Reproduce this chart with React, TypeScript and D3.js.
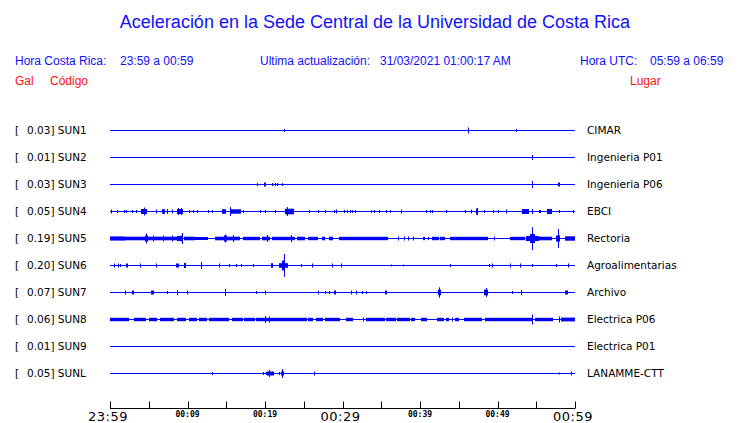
import React from "react";
import * as d3 from "d3";

const TITLE = "Aceleración en la Sede Central de la Universidad de Costa Rica";
const codes = ["SUN1", "SUN2", "SUN3", "SUN4", "SUN5", "SUN6", "SUN7", "SUN8", "SUN9", "SUNL"];
const gals = ["0.03", "0.01", "0.03", "0.05", "0.19", "0.20", "0.07", "0.06", "0.01", "0.05"];
const places = ["CIMAR", "Ingenieria P01", "Ingenieria P06", "EBCI", "Rectoria", "Agroalimentarias", "Archivo", "Electrica P06", "Electrica P01", "LANAMME-CTT"];

// events: [start minute, end minute, half amplitude]
const sun1 = [[22.5, 22.5, 1], [46.15, 46.25, 2.5], [52.4, 52.4, 1]];
const sun2 = [[54.5, 54.5, 2]];
const sun3 = [[19.0, 19.0, 1], [19.9, 20.1, 1.5], [20.9, 20.9, 1], [21.3, 21.3, 1], [21.6, 21.6, 1], [22.2, 22.2, 1], [54.45, 54.55, 3], [57.8, 58.0, 1.5]];
const sun4 = [
  [0.1, 0.1, 1.5], [0.9, 0.9, 1], [1.8, 1.8, 1], [2.1, 2.1, 1], [2.9, 2.9, 1], [3.4, 3.4, 1],
  [4.0, 4.8, 2], [4.4, 4.4, 3.5], [5.9, 5.9, 1.5], [6.7, 7.05, 1.8], [7.4, 7.4, 2], [8.0, 8.0, 1.5],
  [8.6, 9.4, 2], [8.8, 8.8, 3], [9.1, 9.1, 3], [10.2, 10.2, 1], [10.7, 10.7, 1], [11.2, 11.2, 1],
  [12.6, 12.6, 1], [13.1, 13.1, 1], [14.5, 14.95, 1.8], [15.5, 15.5, 4], [15.6, 16.9, 1.7], [17.2, 17.2, 1],
  [19.4, 19.4, 1], [20.0, 20.0, 1], [21.3, 21.3, 1], [22.6, 23.7, 2.3], [22.9, 22.9, 4],
  [25.7, 25.7, 1], [26.8, 26.8, 1], [27.8, 27.8, 1], [28.9, 28.9, 1], [29.2, 29.2, 1.5],
  [30.2, 30.2, 1], [30.6, 30.6, 1], [31.0, 31.0, 1], [31.2, 31.2, 1], [31.6, 31.6, 1],
  [33.7, 33.7, 1], [34.1, 34.1, 1], [34.7, 34.7, 1], [35.6, 35.6, 1], [36.1, 36.1, 1],
  [37.55, 37.65, 1.5], [40.8, 40.8, 1], [41.3, 41.3, 1], [41.5, 41.5, 1], [43.4, 43.4, 1],
  [45.8, 45.8, 1], [46.55, 46.65, 1.5], [47.2, 47.4, 2.5], [47.3, 47.3, 3], [48.3, 48.3, 1], [49.4, 49.4, 1],
  [50.0, 50.0, 1], [51.05, 51.15, 1.5], [53.2, 54.0, 2], [54.45, 54.55, 2], [55.3, 55.3, 1],
  [55.5, 55.5, 1], [56.4, 57.0, 2], [57.9, 57.9, 1], [59.8, 59.8, 1],
];
const sun5 = [
  [0.0, 1.9, 1.6], [1.9, 4.5, 1.3], [4.55, 4.85, 2.5], [4.7, 4.7, 4.5], [4.9, 9.2, 1.3], [5.5, 5.5, 2.5],
  [6.8, 6.8, 2.5], [8.0, 8.0, 2.5], [8.7, 9.1, 2], [9.2, 9.4, 2.5], [9.3, 9.3, 5], [9.5, 11.0, 1.3],
  [11.0, 12.3, 1], [12.3, 12.7, 1], [13.5, 16.8, 1.3], [14.75, 15.05, 2.5], [14.9, 14.9, 3.5],
  [15.9, 15.9, 3], [17.2, 19.4, 1.2], [19.6, 20.6, 1.3], [20.2, 20.2, 3], [20.9, 23.9, 1.2],
  [23.4, 23.4, 3], [24.1, 25.2, 1.3], [25.6, 26.9, 1.2], [27.3, 27.7, 1.3], [28.2, 28.8, 1.3],
  [29.5, 35.9, 1.2], [37.2, 37.2, 1.5], [38.0, 38.0, 1.5], [38.5, 38.5, 1.5], [39.1, 39.1, 1.5],
  [40.4, 40.6, 1.2], [41.0, 41.2, 1.2], [41.5, 42.4, 1.2], [42.6, 43.2, 1.2], [43.9, 48.8, 1.2],
  [49.5, 49.5, 1.5], [51.6, 53.5, 1.2], [53.7, 55.3, 2], [54.2, 54.8, 4], [54.5, 54.5, 11],
  [54.45, 54.6, 7], [55.3, 57.0, 1.3], [57.5, 58.1, 2.5], [57.8, 57.8, 9], [58.7, 60.0, 1.7],
];
const sun6 = [
  [0.5, 0.5, 1.5], [1.0, 1.0, 1.5], [1.3, 1.3, 1], [2.1, 2.3, 1.5], [3.9, 3.9, 1.5], [5.9, 5.9, 1.5],
  [8.55, 8.85, 1.5], [9.55, 9.85, 2], [11.8, 11.8, 3], [14.1, 14.1, 1.5], [15.4, 15.4, 1],
  [16.3, 16.3, 1], [16.9, 16.9, 1], [18.5, 18.5, 1], [20.8, 21.05, 1.8], [21.85, 22.95, 1.8],
  [22.25, 22.6, 4.5], [22.4, 22.4, 11], [24.6, 24.6, 1], [26.1, 26.1, 1.5], [28.6, 28.6, 1.5],
  [29.8, 29.8, 1.5], [36.2, 36.2, 0.5], [37.8, 37.8, 0.5], [43.9, 43.9, 1], [48.9, 48.9, 1],
  [49.35, 49.45, 1.5], [51.65, 51.75, 1.5], [52.9, 52.9, 1.5], [54.5, 54.5, 1], [57.5, 57.5, 1],
  [59.15, 59.25, 1.5],
];
const sun7 = [
  [1.9, 2.1, 1.5], [2.9, 3.1, 1.5], [5.35, 5.65, 1.5], [7.4, 7.4, 1], [8.6, 8.6, 2], [9.9, 10.1, 1.5],
  [14.8, 15.0, 2], [14.9, 14.9, 3], [18.9, 18.9, 1], [20.0, 20.0, 1.5], [26.9, 26.9, 1.5],
  [27.7, 27.7, 1], [28.3, 28.3, 1], [28.9, 29.1, 1.5], [31.05, 31.15, 1.5], [31.7, 31.9, 1.5],
  [32.5, 32.5, 1], [33.0, 33.0, 1], [35.45, 35.75, 1.5], [42.3, 42.7, 2.3], [42.5, 42.5, 4.7],
  [48.25, 48.75, 2.3], [48.5, 48.5, 4], [51.9, 51.9, 1], [53.05, 53.15, 2], [58.75, 59.05, 1.5],
];
const sun8 = [
  [0.0, 2.4, 1.2], [3.1, 4.6, 1.2], [5.0, 6.0, 1.2], [6.5, 8.3, 1.2], [8.6, 9.8, 1.2], [10.2, 11.2, 1.2],
  [11.5, 12.5, 1.2], [12.8, 15.4, 1.2], [15.8, 17.1, 1.2], [17.3, 18.7, 1.2], [18.9, 25.4, 1.2],
  [20.0, 20.0, 3], [20.5, 20.5, 2.5], [25.6, 26.2, 1.2], [26.6, 27.5, 1.2], [27.7, 29.7, 1.2],
  [30.4, 31.4, 1.2], [32.7, 32.7, 1.5], [33.0, 35.5, 1.2], [35.6, 36.9, 1.2], [37.0, 37.5, 1.2],
  [37.6, 38.7, 1.2], [38.9, 39.3, 1.2], [40.1, 40.9, 1.2], [42.2, 43.1, 1.2], [43.3, 43.7, 1.2],
  [44.1, 44.1, 1.5], [44.5, 45.0, 1.2], [45.7, 48.0, 1.2], [48.4, 54.4, 1.2], [54.5, 54.5, 4.5],
  [54.4, 54.6, 2.2], [54.8, 57.2, 1.2], [57.9, 57.9, 2.5], [58.2, 60.0, 1.4],
];
const sun9: number[][] = [];
const sunl = [
  [13.2, 13.2, 1], [19.8, 19.8, 1], [20.1, 20.1, 1], [20.3, 21.2, 1.5], [20.5, 20.5, 3], [21.8, 21.8, 1],
  [22.0, 22.5, 1.5], [22.2, 22.2, 4], [26.3, 26.3, 1.5], [57.9, 57.9, 0.5], [59.5, 59.5, 1.5],
];
const traces = [sun1, sun2, sun3, sun4, sun5, sun6, sun7, sun8, sun9, sunl];

const tickMinutes = d3.range(0, 61, 5);
const majorTicks = [0, 30, 60];
const majorLabels = ["23:59", "00:29", "00:59"];
const minorTicks = [10, 20, 40, 50];
const minorLabels = ["00:09", "00:19", "00:39", "00:49"];

const BLUE = "#1010ff";
const TRACE = "#0000ff";
const RED = "#ff1010";

export default function App() {
  const x = d3.scaleLinear().domain([0, 60]).range([110, 575]);
  const y = d3.scalePoint<string>().domain(codes).range([130, 373]);
  const amp = d3.scaleLinear().domain([0, 1]).range([0, 1]);
  const axisY = 408.5;
  const sans = "'Liberation Sans', Arial, sans-serif";
  const dv = "'DejaVu Sans', sans-serif";

  return (
    <svg width={740} height={423} style={{ position: "absolute", left: 0, top: 0, background: "#fff" }}>
      <rect x={0} y={0} width={740} height={423} fill="#fff" />
      <text x={375} y={28} textAnchor="middle" fontFamily={sans} fontSize={18} fill={BLUE}>{TITLE}</text>
      <g fontFamily={sans} fontSize={12} fill={BLUE} style={{ whiteSpace: "pre" }}>
        <text x={15} y={65}>Hora Costa Rica:</text>
        <text x={120} y={65}>23:59 a 00:59</text>
        <text x={260} y={65}>Ultima actualización:</text>
        <text x={380} y={65}>31/03/2021 01:00:17 AM</text>
        <text x={580} y={65}>Hora UTC:</text>
        <text x={650} y={65}>05:59 a 06:59</text>
      </g>
      <g fontFamily={sans} fontSize={12} fill={RED}>
        <text x={15} y={85}>Gal</text>
        <text x={50} y={85}>Código</text>
        <text x={630} y={85}>Lugar</text>
      </g>
      {codes.map((c, i) => {
        const yc = Math.round(y(c) as number) + 0.5;
        return (
          <g key={c}>
            <text x={15} y={yc + 3.5} fontFamily={dv} fontSize={10.5} fill="#000">[</text>
            <text x={27} y={yc + 3.5} fontFamily={dv} fontSize={10.5} fill="#000">{gals[i]}] {c}</text>
            <text x={587} y={yc + 3.5} fontFamily={dv} fontSize={10.5} fill="#000">{places[i]}</text>
            <line x1={x(0)} x2={x(60)} y1={yc} y2={yc} stroke={TRACE} strokeWidth={1} />
            {traces[i].map((e, k) => {
              const x0 = Math.round(x(e[0]));
              const x1 = Math.round(x(e[1]));
              const h = amp(e[2]);
              return (
                <rect key={k} x={x0} y={yc - 0.5 - h} width={Math.max(1, x1 - x0)} height={1 + 2 * h} fill={TRACE} />
              );
            })}
          </g>
        );
      })}
      <line x1={x(0)} x2={x(60)} y1={axisY} y2={axisY} stroke="#000" strokeWidth={1} />
      {tickMinutes.map((m) => (
        <line key={m} x1={Math.round(x(m)) + 0.5} x2={Math.round(x(m)) + 0.5} y1={axisY - 7} y2={axisY} stroke="#000" strokeWidth={1} />
      ))}
      {majorTicks.map((m, i) => (
        <text key={m} x={x(m) - 2} y={421} textAnchor="middle" fontFamily={dv} fontSize={13} letterSpacing={0.5} fill="#000">{majorLabels[i]}</text>
      ))}
      {minorTicks.map((m, i) => (
        <text key={m} x={x(m)} y={417} textAnchor="middle" fontFamily="'DejaVu Sans Mono', monospace" fontSize={8} fontWeight="bold" fill="#000">{minorLabels[i]}</text>
      ))}
    </svg>
  );
}
